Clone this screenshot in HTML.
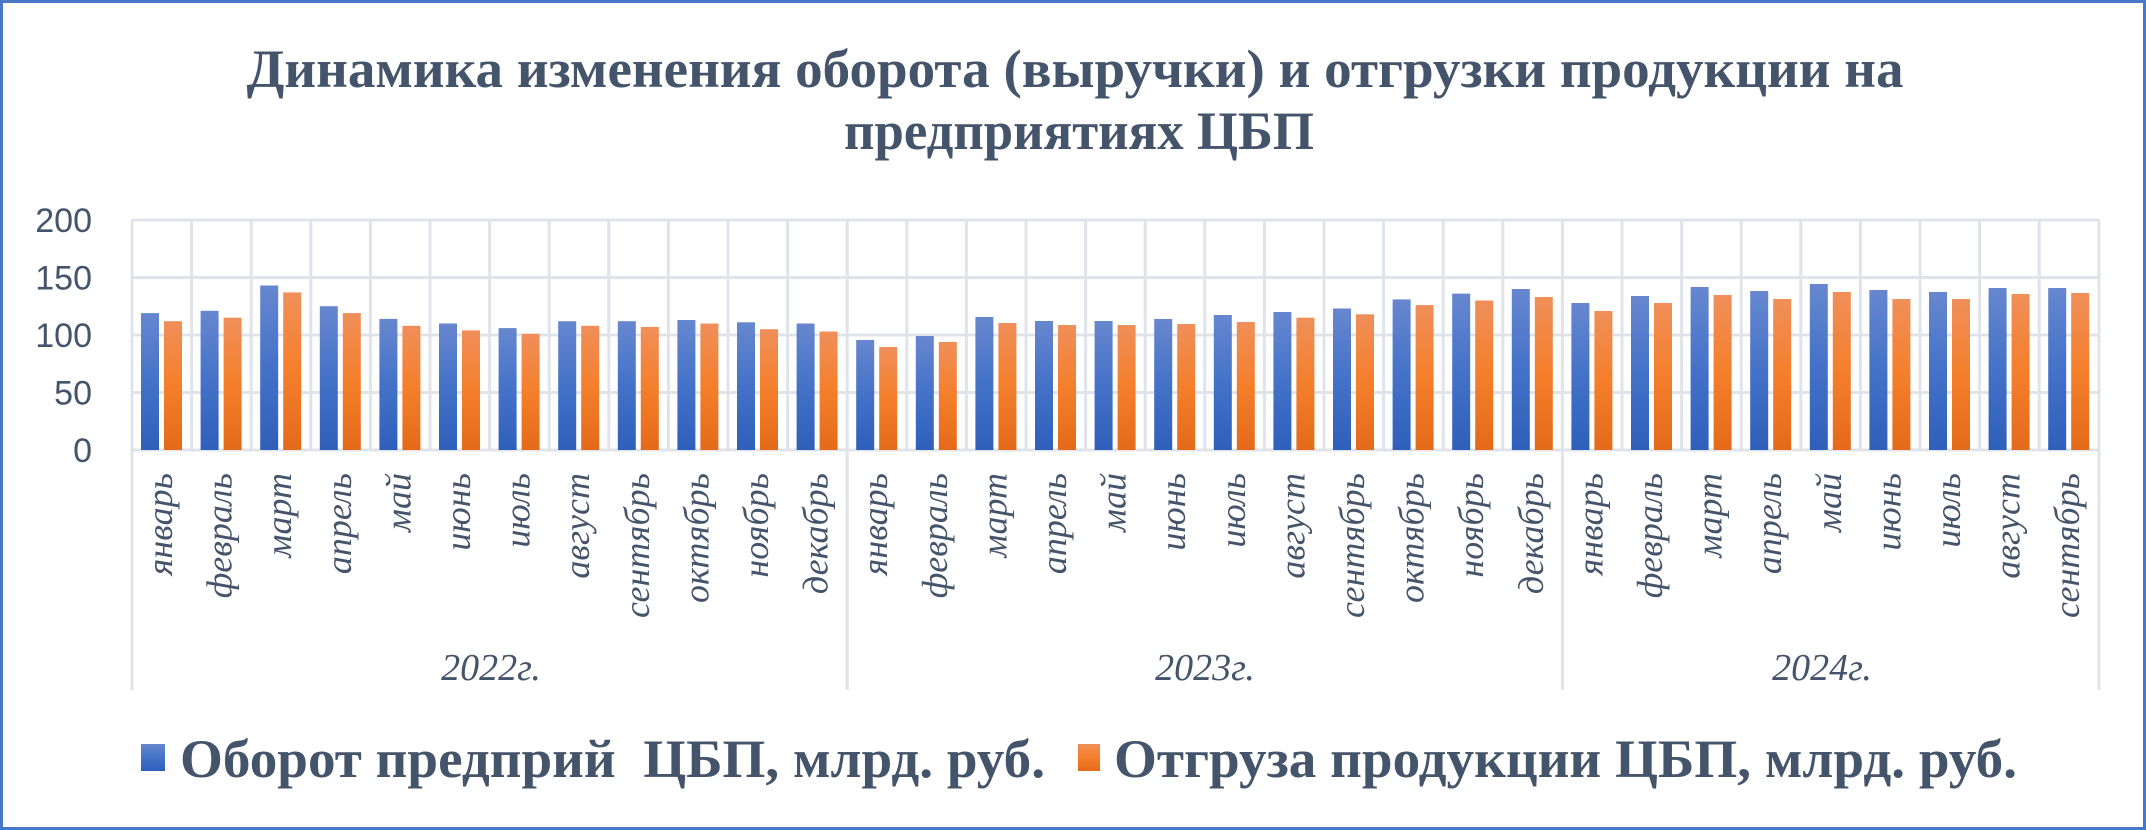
<!DOCTYPE html>
<html><head><meta charset="utf-8"><style>
html,body{margin:0;padding:0;background:#fff;}
svg{display:block;}
</style></head><body>
<svg width="2146" height="830" viewBox="0 0 2146 830" xmlns="http://www.w3.org/2000/svg">
<defs>
<linearGradient id="gb" x1="0" y1="0" x2="0" y2="1"><stop offset="0" stop-color="#6787cf"/><stop offset="0.5" stop-color="#4472c8"/><stop offset="1" stop-color="#2e5fba"/></linearGradient>
<linearGradient id="go" x1="0" y1="0" x2="0" y2="1"><stop offset="0" stop-color="#f08f5a"/><stop offset="0.5" stop-color="#f47f2b"/><stop offset="1" stop-color="#e46a19"/></linearGradient>
</defs>
<rect x="1.5" y="1.5" width="2143" height="827" fill="#fff" stroke="#4a78c9" stroke-width="3"/>
<g font-family="Liberation Serif, serif" font-weight="bold" fill="#44546a" font-size="54" text-anchor="middle">
<text x="1075" y="87" textLength="1657" lengthAdjust="spacingAndGlyphs">Динамика изменения оборота (выручки) и отгрузки продукции на</text>
<text x="1079" y="149" textLength="470" lengthAdjust="spacingAndGlyphs">предприятиях ЦБП</text>
</g>
<g stroke="#e0e4ea" stroke-width="3">
<line x1="132" y1="220" x2="2099" y2="220"/>
<line x1="132" y1="277.5" x2="2099" y2="277.5"/>
<line x1="132" y1="335" x2="2099" y2="335"/>
<line x1="132" y1="392.5" x2="2099" y2="392.5"/>
<line x1="132" y1="450" x2="2099" y2="450"/>
<line x1="132" y1="220" x2="132" y2="690"/>
<line x1="191.6" y1="220" x2="191.6" y2="450"/><line x1="251.2" y1="220" x2="251.2" y2="450"/><line x1="310.8" y1="220" x2="310.8" y2="450"/><line x1="370.4" y1="220" x2="370.4" y2="450"/><line x1="430" y1="220" x2="430" y2="450"/><line x1="489.6" y1="220" x2="489.6" y2="450"/><line x1="549.2" y1="220" x2="549.2" y2="450"/><line x1="608.8" y1="220" x2="608.8" y2="450"/><line x1="668.4" y1="220" x2="668.4" y2="450"/><line x1="728" y1="220" x2="728" y2="450"/><line x1="787.6" y1="220" x2="787.6" y2="450"/>
<line x1="847.2" y1="220" x2="847.2" y2="690"/>
<line x1="906.8" y1="220" x2="906.8" y2="450"/><line x1="966.4" y1="220" x2="966.4" y2="450"/><line x1="1026" y1="220" x2="1026" y2="450"/><line x1="1085.6" y1="220" x2="1085.6" y2="450"/><line x1="1145.2" y1="220" x2="1145.2" y2="450"/><line x1="1204.8" y1="220" x2="1204.8" y2="450"/><line x1="1264.4" y1="220" x2="1264.4" y2="450"/><line x1="1324" y1="220" x2="1324" y2="450"/><line x1="1383.6" y1="220" x2="1383.6" y2="450"/><line x1="1443.2" y1="220" x2="1443.2" y2="450"/><line x1="1502.8" y1="220" x2="1502.8" y2="450"/>
<line x1="1562.4" y1="220" x2="1562.4" y2="690"/>
<line x1="1622" y1="220" x2="1622" y2="450"/><line x1="1681.6" y1="220" x2="1681.6" y2="450"/><line x1="1741.2" y1="220" x2="1741.2" y2="450"/><line x1="1800.8" y1="220" x2="1800.8" y2="450"/><line x1="1860.4" y1="220" x2="1860.4" y2="450"/><line x1="1920" y1="220" x2="1920" y2="450"/><line x1="1979.6" y1="220" x2="1979.6" y2="450"/><line x1="2039.2" y1="220" x2="2039.2" y2="450"/>
<line x1="2099" y1="220" x2="2099" y2="690"/>
</g>
<g font-family="Liberation Sans, sans-serif" font-size="34" fill="#44546a" text-anchor="end">
<text x="92" y="232">200</text><text x="92" y="289.5">150</text><text x="92" y="347">100</text><text x="92" y="404.5">50</text><text x="92" y="462">0</text>
</g>
<g>
<rect x="141" y="313.1" width="18" height="136.9" fill="url(#gb)"/><rect x="164" y="321.2" width="18" height="128.8" fill="url(#go)"/>
<rect x="200.6" y="310.8" width="18" height="139.2" fill="url(#gb)"/><rect x="223.6" y="317.7" width="18" height="132.3" fill="url(#go)"/>
<rect x="260.2" y="285.5" width="18" height="164.5" fill="url(#gb)"/><rect x="283.2" y="292.4" width="18" height="157.6" fill="url(#go)"/>
<rect x="319.8" y="306.2" width="18" height="143.8" fill="url(#gb)"/><rect x="342.8" y="313.1" width="18" height="136.9" fill="url(#go)"/>
<rect x="379.4" y="318.9" width="18" height="131.1" fill="url(#gb)"/><rect x="402.4" y="325.8" width="18" height="124.2" fill="url(#go)"/>
<rect x="439" y="323.5" width="18" height="126.5" fill="url(#gb)"/><rect x="462" y="330.4" width="18" height="119.6" fill="url(#go)"/>
<rect x="498.6" y="328.1" width="18" height="121.9" fill="url(#gb)"/><rect x="521.6" y="333.8" width="18" height="116.2" fill="url(#go)"/>
<rect x="558.2" y="321.2" width="18" height="128.8" fill="url(#gb)"/><rect x="581.2" y="325.8" width="18" height="124.2" fill="url(#go)"/>
<rect x="617.8" y="321.2" width="18" height="128.8" fill="url(#gb)"/><rect x="640.8" y="326.9" width="18" height="123.1" fill="url(#go)"/>
<rect x="677.4" y="320" width="18" height="130" fill="url(#gb)"/><rect x="700.4" y="323.5" width="18" height="126.5" fill="url(#go)"/>
<rect x="737" y="322.3" width="18" height="127.7" fill="url(#gb)"/><rect x="760" y="329.2" width="18" height="120.8" fill="url(#go)"/>
<rect x="796.6" y="323.5" width="18" height="126.5" fill="url(#gb)"/><rect x="819.6" y="331.5" width="18" height="118.5" fill="url(#go)"/>
<rect x="856.2" y="340" width="18" height="110" fill="url(#gb)"/><rect x="879.2" y="347" width="18" height="103" fill="url(#go)"/>
<rect x="915.8" y="336" width="18" height="114" fill="url(#gb)"/><rect x="938.8" y="342" width="18" height="108" fill="url(#go)"/>
<rect x="975.4" y="317" width="18" height="133" fill="url(#gb)"/><rect x="998.4" y="323" width="18" height="127" fill="url(#go)"/>
<rect x="1035" y="321" width="18" height="129" fill="url(#gb)"/><rect x="1058" y="325" width="18" height="125" fill="url(#go)"/>
<rect x="1094.6" y="321" width="18" height="129" fill="url(#gb)"/><rect x="1117.6" y="325" width="18" height="125" fill="url(#go)"/>
<rect x="1154.2" y="319" width="18" height="131" fill="url(#gb)"/><rect x="1177.2" y="324" width="18" height="126" fill="url(#go)"/>
<rect x="1213.8" y="315" width="18" height="135" fill="url(#gb)"/><rect x="1236.8" y="322" width="18" height="128" fill="url(#go)"/>
<rect x="1273.4" y="312" width="18" height="138" fill="url(#gb)"/><rect x="1296.4" y="317.7" width="18" height="132.3" fill="url(#go)"/>
<rect x="1333" y="308.5" width="18" height="141.5" fill="url(#gb)"/><rect x="1356" y="314.3" width="18" height="135.7" fill="url(#go)"/>
<rect x="1392.6" y="299.4" width="18" height="150.6" fill="url(#gb)"/><rect x="1415.6" y="305.1" width="18" height="144.9" fill="url(#go)"/>
<rect x="1452.2" y="293.6" width="18" height="156.4" fill="url(#gb)"/><rect x="1475.2" y="300.5" width="18" height="149.5" fill="url(#go)"/>
<rect x="1511.8" y="289" width="18" height="161" fill="url(#gb)"/><rect x="1534.8" y="297" width="18" height="153" fill="url(#go)"/>
<rect x="1571.4" y="303" width="18" height="147" fill="url(#gb)"/><rect x="1594.4" y="311" width="18" height="139" fill="url(#go)"/>
<rect x="1631" y="296" width="18" height="154" fill="url(#gb)"/><rect x="1654" y="303" width="18" height="147" fill="url(#go)"/>
<rect x="1690.6" y="287" width="18" height="163" fill="url(#gb)"/><rect x="1713.6" y="295" width="18" height="155" fill="url(#go)"/>
<rect x="1750.2" y="291" width="18" height="159" fill="url(#gb)"/><rect x="1773.2" y="299" width="18" height="151" fill="url(#go)"/>
<rect x="1809.8" y="284" width="18" height="166" fill="url(#gb)"/><rect x="1832.8" y="292" width="18" height="158" fill="url(#go)"/>
<rect x="1869.4" y="290" width="18" height="160" fill="url(#gb)"/><rect x="1892.4" y="299" width="18" height="151" fill="url(#go)"/>
<rect x="1929" y="292" width="18" height="158" fill="url(#gb)"/><rect x="1952" y="299" width="18" height="151" fill="url(#go)"/>
<rect x="1988.6" y="288" width="18" height="162" fill="url(#gb)"/><rect x="2011.6" y="294" width="18" height="156" fill="url(#go)"/>
<rect x="2048.2" y="288" width="18" height="162" fill="url(#gb)"/><rect x="2071.2" y="293" width="18" height="157" fill="url(#go)"/>
</g>
<g font-family="Liberation Serif, serif" font-style="italic" font-size="36" fill="#44546a" text-anchor="end">
<text transform="translate(172,473) rotate(-90)">январь</text>
<text transform="translate(231.6,473) rotate(-90)">февраль</text>
<text transform="translate(291.2,473) rotate(-90)">март</text>
<text transform="translate(350.8,473) rotate(-90)">апрель</text>
<text transform="translate(410.4,473) rotate(-90)">май</text>
<text transform="translate(470,473) rotate(-90)">июнь</text>
<text transform="translate(529.6,473) rotate(-90)">июль</text>
<text transform="translate(589.2,473) rotate(-90)">август</text>
<text transform="translate(648.8,473) rotate(-90)">сентябрь</text>
<text transform="translate(708.4,473) rotate(-90)">октябрь</text>
<text transform="translate(768,473) rotate(-90)">ноябрь</text>
<text transform="translate(827.6,473) rotate(-90)">декабрь</text>
<text transform="translate(887.2,473) rotate(-90)">январь</text>
<text transform="translate(946.8,473) rotate(-90)">февраль</text>
<text transform="translate(1006.4,473) rotate(-90)">март</text>
<text transform="translate(1066,473) rotate(-90)">апрель</text>
<text transform="translate(1125.6,473) rotate(-90)">май</text>
<text transform="translate(1185.2,473) rotate(-90)">июнь</text>
<text transform="translate(1244.8,473) rotate(-90)">июль</text>
<text transform="translate(1304.4,473) rotate(-90)">август</text>
<text transform="translate(1364,473) rotate(-90)">сентябрь</text>
<text transform="translate(1423.6,473) rotate(-90)">октябрь</text>
<text transform="translate(1483.2,473) rotate(-90)">ноябрь</text>
<text transform="translate(1542.8,473) rotate(-90)">декабрь</text>
<text transform="translate(1602.4,473) rotate(-90)">январь</text>
<text transform="translate(1662,473) rotate(-90)">февраль</text>
<text transform="translate(1721.6,473) rotate(-90)">март</text>
<text transform="translate(1781.2,473) rotate(-90)">апрель</text>
<text transform="translate(1840.8,473) rotate(-90)">май</text>
<text transform="translate(1900.4,473) rotate(-90)">июнь</text>
<text transform="translate(1960,473) rotate(-90)">июль</text>
<text transform="translate(2019.6,473) rotate(-90)">август</text>
<text transform="translate(2079.2,473) rotate(-90)">сентябрь</text>
</g>
<g font-family="Liberation Serif, serif" font-style="italic" font-size="38" fill="#44546a" text-anchor="middle">
<text x="491" y="680">2022г.</text>
<text x="1205" y="680">2023г.</text>
<text x="1822" y="680">2024г.</text>
</g>
<rect x="141" y="744" width="24" height="27" fill="url(#gb)"/>
<rect x="1078" y="744" width="22" height="27" fill="url(#go)"/>
<g font-family="Liberation Serif, serif" font-weight="bold" font-size="54" fill="#44546a">
<text x="180" y="777" textLength="865" lengthAdjust="spacingAndGlyphs" xml:space="preserve">Оборот предприй  ЦБП, млрд. руб.</text>
<text x="1114" y="777" textLength="903" lengthAdjust="spacingAndGlyphs">Отгруза продукции ЦБП, млрд. руб.</text>
</g>
</svg>
</body></html>
